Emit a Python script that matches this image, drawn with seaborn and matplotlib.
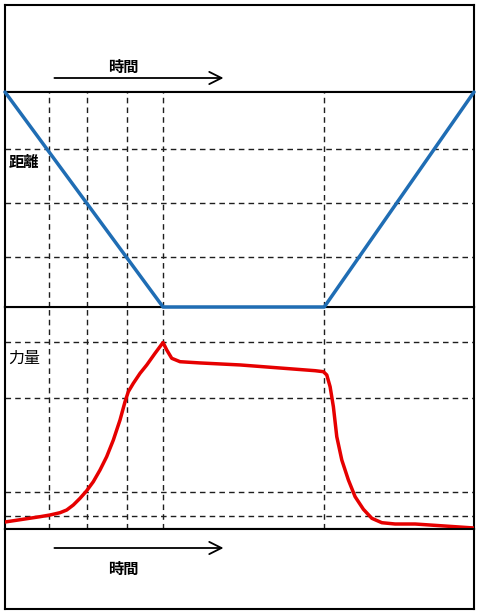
import numpy as np
import pandas as pd
import matplotlib
matplotlib.use("Agg")
import matplotlib.pyplot as plt
import seaborn as sns

# distance panel (blue)
dist_time = [0.0, 4.0, 8.08, 11.87]
dist_value = [4.0, 0.0, 0.0, 4.0]
dist_hlines = [2.94, 1.93, 0.93]

# force panel (red)
force_time = [0.0, 0.886, 1.139, 1.392, 1.562, 1.729, 1.899, 2.068, 2.235,
              2.405, 2.573, 2.742, 2.911, 3.038, 3.121, 3.248, 3.418, 3.587,
              3.797, 4.0, 4.094, 4.22, 4.43, 4.937, 5.949, 7.848, 8.058,
              8.144, 8.228, 8.311, 8.397, 8.524, 8.691, 8.861, 9.071, 9.284,
              9.537, 9.873, 10.38, 11.873]
force_value = [3.15, 5.54, 6.31, 7.34, 8.56, 10.81, 13.83, 17.25, 21.31,
               26.58, 32.57, 40.09, 49.1, 57.34, 61.85, 65.63, 70.14, 73.87,
               79.14, 84.0, 80.63, 76.89, 75.36, 74.8, 73.9, 71.31, 70.86,
               69.37, 64.1, 55.09, 41.58, 31.08, 22.07, 14.55, 8.87, 4.82,
               2.84, 2.25, 2.25, 0.45]
force_hlines = [84.2, 59.0, 16.7, 5.9]

time_vlines = [1.11, 2.08, 3.09, 4.0, 8.08]
x_max = 11.87

sns.set_style("white")
plt.rcParams['font.family'] = ['Noto Sans CJK JP', 'DejaVu Sans']
plt.rcParams['text.color'] = 'black'

W, H = 479, 616
fig = plt.figure(figsize=(W / 100, H / 100), dpi=100)


def px_axes(top, bottom, left=5, right=474):
    return fig.add_axes([left / W, 1 - bottom / H, (right - left) / W, (bottom - top) / H])


ax_top = px_axes(5, 92)
ax_dist = px_axes(92, 307)
ax_force = px_axes(307, 529)
ax_bot = px_axes(529, 609)
ax_dist.set_zorder(5)  # blue flat segment sits on top of the panel border

for ax in (ax_top, ax_dist, ax_force, ax_bot):
    ax.set_xlim(0, x_max)
    ax.set_xticks([])
    ax.set_yticks([])
    for s in ax.spines.values():
        s.set_visible(True)
        s.set_color("black")
        s.set_linewidth(1.5)

grid_kw = dict(color="#1e1e1e", lw=1.0, ls=(0, (4, 3)), zorder=1)

# distance panel
ax_dist.set_ylim(0, 4)
for t in time_vlines:
    ax_dist.axvline(t, **grid_kw)
for h in dist_hlines:
    ax_dist.axhline(h, **grid_kw)
df_d = pd.DataFrame({"time": dist_time, "distance": dist_value})
sns.lineplot(data=df_d, x="time", y="distance", ax=ax_dist, color="#1f6db4",
             lw=2.5, zorder=3, clip_on=False)
ax_dist.set_xlabel("")
ax_dist.set_ylabel("")
ax_dist.text(0.1, 2.7, "距離", fontsize=11, fontweight="bold", va="center", ha="left")

# force panel
ax_force.set_ylim(0, 100)
for t in time_vlines:
    ax_force.axvline(t, **grid_kw)
for h in force_hlines:
    ax_force.axhline(h, **grid_kw)
df_f = pd.DataFrame({"time": force_time, "force": force_value})
sns.lineplot(data=df_f, x="time", y="force", ax=ax_force, color="#e60000",
             lw=2.5, zorder=3, solid_joinstyle="round")
ax_force.set_xlabel("")
ax_force.set_ylabel("")
ax_force.text(0.08, 77, "力量", fontsize=11.5, va="center", ha="left")

# time arrows
ax_top.set_ylim(0, 87)
ax_top.annotate("", xy=(5.6, 14), xytext=(1.18, 14),
                arrowprops=dict(arrowstyle="->", color="black", lw=1.3,
                                mutation_scale=22))
ax_top.text(3.0, 25, "時間", fontsize=11, fontweight="bold", ha="center", va="center")

ax_bot.set_ylim(0, 80)
ax_bot.annotate("", xy=(5.6, 61), xytext=(1.18, 61),
                arrowprops=dict(arrowstyle="->", color="black", lw=1.3,
                                mutation_scale=22))
ax_bot.text(3.0, 40, "時間", fontsize=11, fontweight="bold", ha="center", va="center")

fig.savefig("out.png", dpi=100)
